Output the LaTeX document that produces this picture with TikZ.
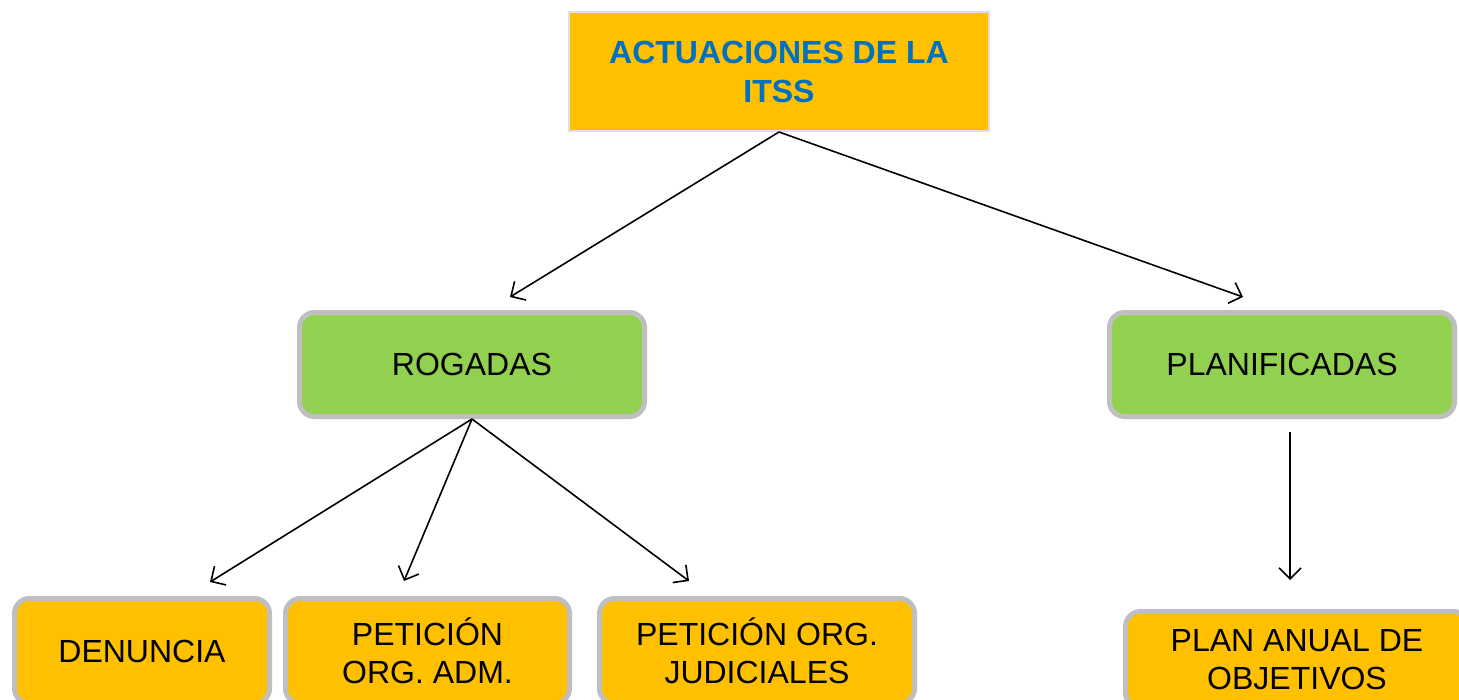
\documentclass[tikz,border=0pt]{standalone}
\usepackage{fontspec}
\setmainfont{Liberation Sans}
\usetikzlibrary{arrows.meta}
\definecolor{boxorange}{HTML}{FFC000}
\definecolor{boxgreen}{HTML}{92D050}
\definecolor{boxgray}{HTML}{BFBFBF}
\definecolor{titleblue}{HTML}{0070C0}
\definecolor{thingray}{HTML}{E0E0E0}
\tikzset{
  basebox/.style={rectangle, inner sep=0pt, align=center, font=\fontsize{32}{38}\selectfont},
  titlebox/.style={basebox, fill=boxorange, draw=thingray, line width=2pt, text=titleblue, font=\fontsize{32}{39}\selectfont\bfseries},
  greenbox/.style={basebox, fill=boxgreen, draw=boxgray, line width=5pt, rounded corners=15pt},
  leafbox/.style={basebox, fill=boxorange, draw=boxgray, line width=5pt, rounded corners=15pt},
  conn/.style={line width=1.6pt, -{Straight Barb[length=11pt,width=22pt,line width=1.6pt]}}
}
\begin{document}
\begin{tikzpicture}[x=1pt,y=-1pt]
\useasboundingbox (0,0) rectangle (1459,699);
\fill[white] (0,0) rectangle (1459,699);
% nodes
\node[titlebox, minimum width=420pt, minimum height=119pt] (top) at (779,71.5) {ACTUACIONES DE LA\\ITSS};
\node[greenbox, minimum width=345pt, minimum height=104pt] (rog) at (472,364.5) {ROGADAS};
\node[greenbox, minimum width=345pt, minimum height=104pt] (plan) at (1282,364.5) {PLANIFICADAS};
\node[leafbox, minimum width=255pt, minimum height=105pt] (den) at (142,651) {DENUNCIA};
\node[leafbox, minimum width=284pt, minimum height=105pt] (adm) at (427.5,651) {PETICIÓN\\ORG. ADM.};
\node[leafbox, minimum width=315pt, minimum height=105pt] (jud) at (757,651) {PETICIÓN ORG.\\JUDICIALES};
\node[leafbox, minimum width=343pt, minimum height=96pt] (pla) at (1297,659.5) {PLAN ANUAL DE\\OBJETIVOS};
% arrow tips
\coordinate (tipr) at (510,297);
\coordinate (tipp) at (1243,297);
\coordinate (tipd) at (210,582);
\coordinate (tipa) at (404,581);
\coordinate (tipj) at (689,581);
\coordinate (plstart) at (1290,432);
\coordinate (tipo) at (1290,580);
% connectors
\draw[conn] (top.south) -- (tipr);
\draw[conn] (top.south) -- (tipp);
\draw[conn] (rog.south) -- (tipd);
\draw[conn] (rog.south) -- (tipa);
\draw[conn] (rog.south) -- (tipj);
\draw[conn] (plstart) -- (tipo);
\end{tikzpicture}
\end{document}
